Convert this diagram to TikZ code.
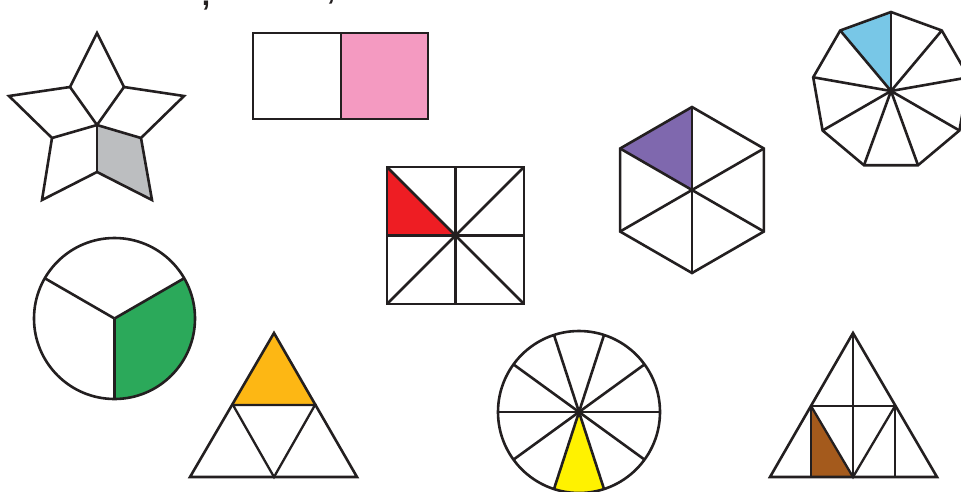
\documentclass[tikz,border=0pt]{standalone}
\usepackage{fontspec}
\setsansfont{Liberation Sans}
\definecolor{cgray}{HTML}{BCBEC0}
\definecolor{cpink}{HTML}{F49AC1}
\definecolor{cblue}{HTML}{78C7E7}
\definecolor{cpurple}{HTML}{7F68AE}
\definecolor{cred}{HTML}{EE1D23}
\definecolor{cgreen}{HTML}{2BA95A}
\definecolor{corange}{HTML}{FDB714}
\definecolor{cyellow}{HTML}{FFF200}
\definecolor{cbrown}{HTML}{A45A1C}
\definecolor{cline}{HTML}{231F20}
\begin{document}
\begin{tikzpicture}[x=1pt,y=-1pt,
  edge/.style={draw=cline,line width=2.6pt},
  inner/.style={draw=cline,line width=2.3pt},
  comma/.style={font=\sffamily\bfseries\fontsize{30}{32}\selectfont,text=cline,inner sep=0pt,anchor=base}]
\useasboundingbox (0,0) rectangle (961,491);
\clip (0,0) rectangle (961,491);
\fill[white] (0,0) rectangle (961,491);
% cut-off commas of text above
\node[comma] (c1) at (206,5) {,};
\node[comma] (c2) at (331,-1) {,};
% star
\coordinate (sc) at (97,125);
\fill[cgray] (sc) -- (141,138) -- (152,200) -- (97,172) -- cycle;
\draw[edge] (97,33) -- (124,87) -- (184,96) -- (141,138) -- (152,200) -- (97,172) -- (42,200) -- (52,138) -- (9,96) -- (70,87) -- cycle;
\foreach \p in {(70,87),(124,87),(141,138),(97,172),(52,138)} \draw[edge] (sc) -- \p;
% rectangle
\fill[cpink] (341,33) rectangle (428,119);
\draw[edge] (253,33) rectangle (428,119);
\draw[edge] (341,33) -- (341,119);
% nonagon
\begin{scope}[shift={(891,91)}]
\fill[cblue] (0,0) -- (90:79pt) -- (130:79pt) -- cycle;
\draw[edge] (90:79pt) foreach \a in {130,170,...,410} {-- (\a:79pt)} -- cycle;
\foreach \a in {90,130,...,410} \draw[edge] (0,0) -- (\a:79pt);
\end{scope}
% hexagon
\begin{scope}[shift={(692,190)}]
\fill[cpurple] (0,0) -- (90:83pt) -- (150:83pt) -- cycle;
\draw[edge] (90:83pt) foreach \a in {150,210,...,390} {-- (\a:83pt)} -- cycle;
\foreach \a in {90,150,...,390} \draw[edge] (0,0) -- (\a:83pt);
\end{scope}
% square
\fill[cred] (387,167) -- (455.5,235.5) -- (387,235.5) -- cycle;
\draw[edge] (387,167) rectangle (524,304);
\draw[edge] (387,167) -- (524,304);
\draw[edge] (524,167) -- (387,304);
\draw[edge] (387,235.5) -- (524,235.5);
\draw[edge] (455.5,167) -- (455.5,304);
% circle thirds
\begin{scope}[shift={(114.5,318.5)}]
\fill[cgreen] (0,0) -- (-90:80.5pt) arc[start angle=-90,end angle=30,radius=80.5pt] -- cycle;
\draw[edge] (0,0) circle[radius=80.5pt];
\foreach \a in {-90,30,150} \draw[edge] (0,0) -- (\a:80.5pt);
\end{scope}
% orange triangle
\fill[corange] (274,333) -- (315,405) -- (233,405) -- cycle;
\draw[edge] (274,333) -- (357,477) -- (190,477) -- cycle;
\draw[inner] (233,405) -- (315,405) -- (274,477) -- cycle;
% circle tenths
\begin{scope}[shift={(579,412)}]
\fill[cyellow] (0,0) -- (252:81pt) arc[start angle=252,end angle=288,radius=81pt] -- cycle;
\draw[edge] (0,0) circle[radius=81pt];
\foreach \a in {0,36,...,324} \draw[edge] (0,0) -- (\a:81pt);
\end{scope}
% right triangle
\fill[cbrown] (811,406) -- (853,477) -- (811,477) -- cycle;
\draw[edge] (853,333) -- (937,477) -- (770,477) -- cycle;
\draw[inner] (811,406) -- (895,406);
\draw[inner] (853,333) -- (853,477);
\draw[inner] (811,406) -- (811,477);
\draw[inner] (895,406) -- (895,477);
\draw[inner] (811,406) -- (853,477) -- (895,406);
\end{tikzpicture}
\end{document}
